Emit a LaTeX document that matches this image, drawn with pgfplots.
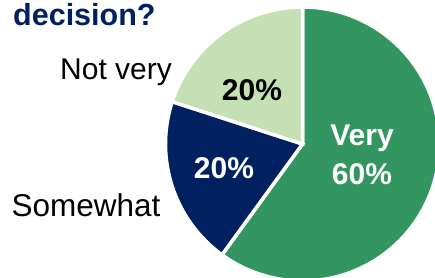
\documentclass[border=0pt]{standalone}
\usepackage{pgfplots}
\pgfplotsset{compat=1.18}
\usepackage{pgfplotstable}
\usepackage{fontspec}
\setmainfont{Liberation Sans}
\definecolor{verygreen}{RGB}{51,150,96}
\definecolor{navy}{RGB}{0,32,96}
\definecolor{lightgreen}{RGB}{197,224,180}
\pgfplotstableread{
label value
Very 60
Somewhat 20
Notvery 20
}\piedata
\begin{document}
\begin{tikzpicture}
\useasboundingbox (0,0) rectangle (435bp,278bp);
\clip (0,0) rectangle (435bp,278bp);
\pgfplotstablegetelem{0}{value}\of\piedata \edef\va{\pgfplotsretval}
\pgfplotstablegetelem{1}{value}\of\piedata \edef\vb{\pgfplotsretval}
\pgfplotstablegetelem{2}{value}\of\piedata \edef\vc{\pgfplotsretval}
\pgfmathsetmacro{\aa}{90}
\pgfmathsetmacro{\ab}{90-3.6*\va}
\pgfmathsetmacro{\ac}{\ab-3.6*\vb}
\pgfmathsetmacro{\ad}{\ac-3.6*\vc}
\begin{axis}[
  at={(0,0)}, anchor=south west,
  x=1bp, y=1bp,
  xmin=0, xmax=435, ymin=0, ymax=278,
  hide axis, clip=true,
]
\fill[verygreen,draw=white,line width=3.5bp] (axis cs:302.5,134) -- ++(\aa:137bp) arc[start angle=\aa,end angle=\ab,radius=137bp] -- cycle;
\fill[navy,draw=white,line width=3.5bp] (axis cs:302.5,134) -- ++(\ab:137bp) arc[start angle=\ab,end angle=\ac,radius=137bp] -- cycle;
\fill[lightgreen,draw=white,line width=3.5bp] (axis cs:302.5,134) -- ++(\ac:137bp) arc[start angle=\ac,end angle=\ad,radius=137bp] -- cycle;
\node[anchor=base west,inner sep=0pt,font=\fontsize{30.5bp}{36bp}\selectfont\bfseries,text=navy] at (axis cs:13,253) {decision?};
\node[anchor=base west,inner sep=0pt,font=\fontsize{30bp}{36bp}\selectfont] at (axis cs:60,199) {Not very};
\node[anchor=base west,inner sep=0pt,font=\fontsize{31.5bp}{36bp}\selectfont] at (axis cs:11.5,62) {Somewhat};
\node[anchor=base,inner sep=0pt,font=\fontsize{30bp}{36bp}\selectfont\bfseries,text=white] at (axis cs:362,133) {Very};
\node[anchor=base,inner sep=0pt,font=\fontsize{30bp}{36bp}\selectfont\bfseries,text=white] at (axis cs:362,94) {60\%};
\node[anchor=base,inner sep=0pt,font=\fontsize{30bp}{36bp}\selectfont\bfseries,text=white] at (axis cs:224,100) {20\%};
\node[anchor=base,inner sep=0pt,font=\fontsize{30bp}{36bp}\selectfont\bfseries,text=black] at (axis cs:252,178) {20\%};
\end{axis}
\end{tikzpicture}
\end{document}
